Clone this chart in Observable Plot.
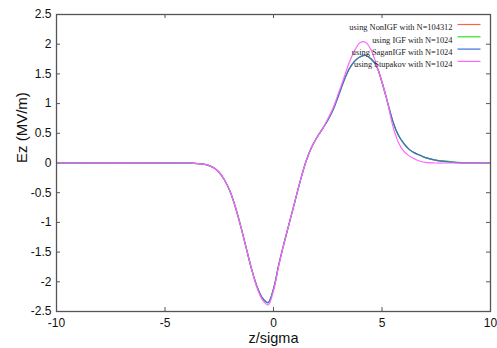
<!DOCTYPE html>
<html><head><meta charset="utf-8">
<script src="https://cdn.jsdelivr.net/npm/d3@7"></script>
<script src="https://cdn.jsdelivr.net/npm/@observablehq/plot@0.6"></script>
<style>
html,body{margin:0;padding:0;background:#fff;}
</style>
</head><body>
<div id="chart"></div>
<script>
// ---- data ----
const zGrid = [-10,-4,-3.75,-3.5,-3.25,-3,-2.75,-2.5,-2.25,-2,-1.75,-1.5,-1.25,-1,-0.75,-0.5,-0.25,0,0.25,0.5,0.75,1,1.25,1.5,1.75,2,2.25,2.5,2.75,3,3.25,3.5,3.75,4,4.25,4.5,4.75,5,5.25,5.5,5.75,6,6.25,6.5,6.75,7,7.5,8,8.5,10];
const ezNonIGF = [0,0,-0.003,-0.01,-0.02,-0.04,-0.08,-0.16,-0.29,-0.48,-0.75,-1.08,-1.44,-1.80,-2.09,-2.28,-2.35,-2.12,-1.70,-1.33,-0.98,-0.63,-0.28,0.03,0.26,0.43,0.57,0.72,0.90,1.14,1.39,1.59,1.72,1.79,1.81,1.75,1.63,1.36,1.03,0.70,0.47,0.33,0.23,0.17,0.13,0.09,0.045,0.025,0.006,0];
const ezIGF    = [0,0,-0.003,-0.01,-0.02,-0.04,-0.08,-0.16,-0.29,-0.48,-0.75,-1.08,-1.44,-1.80,-2.09,-2.28,-2.35,-2.12,-1.70,-1.33,-0.98,-0.63,-0.28,0.03,0.26,0.43,0.57,0.72,0.90,1.14,1.39,1.59,1.72,1.79,1.81,1.75,1.63,1.36,1.03,0.70,0.47,0.33,0.23,0.17,0.13,0.09,0.05,0.03,0.01,0];
const ezSagan  = [0,0,-0.003,-0.01,-0.02,-0.04,-0.08,-0.16,-0.29,-0.48,-0.75,-1.08,-1.44,-1.80,-2.09,-2.28,-2.35,-2.12,-1.70,-1.33,-0.98,-0.63,-0.28,0.03,0.26,0.43,0.57,0.72,0.90,1.14,1.39,1.59,1.72,1.79,1.81,1.75,1.63,1.36,1.03,0.70,0.47,0.33,0.23,0.17,0.13,0.09,0.045,0.02,0.005,0];
const ezStupakov = [0,0,-0.003,-0.01,-0.02,-0.04,-0.08,-0.16,-0.29,-0.48,-0.75,-1.08,-1.44,-1.80,-2.11,-2.31,-2.39,-2.15,-1.72,-1.33,-0.98,-0.63,-0.28,0.03,0.26,0.43,0.57,0.74,0.93,1.18,1.44,1.70,1.90,2.03,2.03,1.90,1.65,1.36,1.03,0.62,0.35,0.20,0.12,0.07,0.03,0.01,0,0,0,0];

const seriesNames = ["using NonIGF with N=104312","using IGF with N=1024","using SaganIGF with N=1024","using Stupakov with N=1024"];
const seriesColors = ["#ff6347","#33dd22","#3b6fd8","#ff66ff"];
const xTicks = [-10,-5,0,5,10];
const yTicks = [-2.5,-2,-1.5,-1,-0.5,0,0.5,1,1.5,2,2.5];

// ---- build table ----
const seriesValues = [ezNonIGF, ezIGF, ezSagan, ezStupakov];
const rows = [];
seriesValues.forEach((es, i) => zGrid.forEach((z, j) => rows.push({series: seriesNames[i], z, ez: es[j]})));

// ---- layout ----
const W = 497, H = 348, mL = 56, mR = 7, mT = 14, mB = 37;
const xDom = [-10, 10], yDom = [-2.5, 2.5];
const px2x = px => xDom[0] + (px - mL) / (W - mL - mR) * (xDom[1] - xDom[0]);
const py2y = py => yDom[1] - (py - mT) / (H - mT - mB) * (yDom[1] - yDom[0]);
const frameH = H - mT - mB, frameW = W - mL - mR;
const legendRows = seriesNames.map((name, i) => ({
  name, color: seriesColors[i],
  y: py2y(24 + 12.3 * i), x1: px2x(457), x2: px2x(480), dy: 10 + 12.3 * i
}));

const tickFont = "'Liberation Sans', Arial, sans-serif";

const chart = Plot.plot({
  width: W, height: H,
  marginLeft: mL, marginRight: mR, marginTop: mT, marginBottom: mB,
  style: {fontFamily: tickFont, background: "#fff"},
  x: {domain: xDom},
  y: {domain: yDom},
  color: {domain: seriesNames, range: seriesColors},
  marks: [
    Plot.axisX(xTicks, {tickSize: 0, tickPadding: 7, fontSize: 12, label: null, tickFormat: d => String(d), fill: "#111"}),
    Plot.axisY(yTicks, {tickSize: 0, tickPadding: 5, fontSize: 12, label: null, tickFormat: d => String(d), fill: "#111"}),
    // inward ticks on all four sides
    Plot.ruleX(xTicks, {x: d => d, insetTop: frameH - 4, stroke: "#555"}),
    Plot.ruleX(xTicks, {x: d => d, insetBottom: frameH - 4, stroke: "#555"}),
    Plot.ruleY(yTicks, {y: d => d, insetRight: frameW - 4, stroke: "#555"}),
    Plot.ruleY(yTicks, {y: d => d, insetLeft: frameW - 4, stroke: "#555"}),
    Plot.line(rows, {x: "z", y: "ez", z: "series", stroke: "series", curve: "catmull-rom", strokeWidth: 1.2}),
    Plot.frame({stroke: "#555", strokeWidth: 1.3}),
    // legend
    ...legendRows.map(r => Plot.text([r.name], {frameAnchor: "top-right", dx: -38, dy: r.dy, textAnchor: "end",
      fontFamily: "'Liberation Serif', 'Times New Roman', serif", fontSize: 8.4, fill: "#222"})),
    ...legendRows.map(r => Plot.link([r], {x1: "x1", x2: "x2", y1: "y", y2: "y", stroke: r.color, strokeWidth: 1.2})),
    // axis titles
    Plot.text(["z/sigma"], {frameAnchor: "bottom", dy: 31.5, fontSize: 14.5, fill: "#111"}),
    Plot.text(["Ez (MV/m)"], {frameAnchor: "left", dx: -34, rotate: -90, fontSize: 15, fill: "#111"})
  ]
});
document.getElementById("chart").appendChild(chart);
</script>
</body></html>
